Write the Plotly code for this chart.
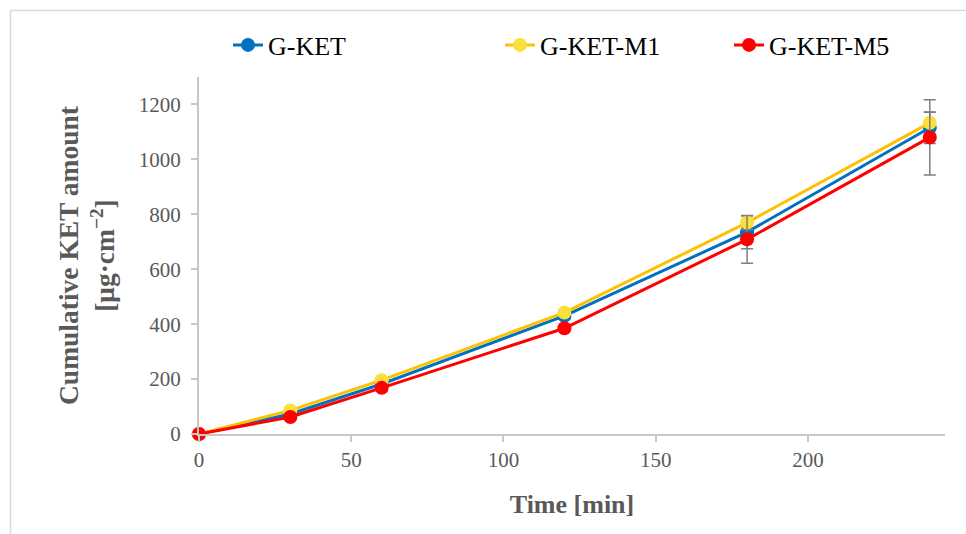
import plotly.graph_objects as go

time_min = [0, 30, 60, 120, 180, 240]
g_ket = [0, 73, 182, 430, 735, 1115]
g_ket_m1 = [0, 86, 196, 442, 770, 1133]
g_ket_m5 = [0, 62, 168, 385, 709, 1080]
err_g_ket = [0, 6, 8, 10, 60, 57]
err_g_ket_m1 = [0, 5, 8, 10, 25, 40]
err_g_ket_m5 = [0, 6, 12, 10, 87, 137]

series = [
    ("G-KET", g_ket, err_g_ket, "#0070C0", "#0070C0", "legend"),
    ("G-KET-M1", g_ket_m1, err_g_ket_m1, "#FFC000", "#F9E03C", "legend2"),
    ("G-KET-M5", g_ket_m5, err_g_ket_m5, "#FF0000", "#FF0000", "legend3"),
]

FONT = "Liberation Serif"
fig = go.Figure()
for name, vals, errs, lc, mc, lg in series:
    fig.add_trace(go.Scatter(
        x=time_min, y=vals, name=name, mode="lines+markers",
        line=dict(color=lc, width=3),
        marker=dict(color=mc, size=14),
        error_y=dict(type="data", array=errs, visible=True,
                     color="#7F7F7F", thickness=1.5, width=6),
        cliponaxis=False, legend=lg, showlegend=True,
    ))

L, R, T, B = 199, 21, 77, 100
W, H = 966, 534
pw, ph = W - L - R, H - T - B

def px_x(p):
    return (p - L) / pw

def px_y(p):
    return (H - B - p) / ph

leg_common = dict(orientation="h", yanchor="middle", xanchor="left",
                  font=dict(family=FONT, size=26, color="#000000"),
                  bgcolor="rgba(0,0,0,0)")
ly = px_y(45)

fig.update_layout(
    width=W, height=H,
    showlegend=True,
    margin=dict(l=L, r=R, t=T, b=B),
    paper_bgcolor="white", plot_bgcolor="white",
    legend=dict(x=px_x(228), y=ly, **leg_common),
    legend2=dict(x=px_x(500), y=ly, **leg_common),
    legend3=dict(x=px_x(729), y=ly, **leg_common),
    xaxis=dict(
        range=[0, 245], tickvals=[0, 50, 100, 150, 200],
        showgrid=False, zeroline=False, showline=True,
        linecolor="#C8C8C8", linewidth=2,
        ticks="outside", ticklen=6, tickcolor="#C8C8C8", tickwidth=1.5,
        tickfont=dict(family=FONT, size=21, color="#595959"),
        title=dict(text="<b>Time [min]</b>", standoff=24,
                   font=dict(family=FONT, size=26, color="#595959")),
    ),
    yaxis=dict(
        range=[0, 1300], tickvals=[0, 200, 400, 600, 800, 1000, 1200],
        showgrid=False, zeroline=False, showline=True,
        linecolor="#C8C8C8", linewidth=2,
        ticks="outside", ticklen=6, tickcolor="#C8C8C8", tickwidth=1.5,
        ticklabelstandoff=6,
        tickfont=dict(family=FONT, size=21, color="#595959"),
        title=dict(text="<b>Cumulative KET amount<br>[μg·cm<sup>−2</sup>]</b>", standoff=16,
                   font=dict(family=FONT, size=27.5, color="#595959")),
    ),
    shapes=[
        dict(type="line", xref="paper", yref="paper",
             x0=px_x(10.5), x1=px_x(10.5), y0=px_y(W), y1=px_y(10.5),
             line=dict(color="#D9D9D9", width=1.5)),
        dict(type="line", xref="paper", yref="paper",
             x0=px_x(10.5), x1=px_x(W + 5), y0=px_y(10.5), y1=px_y(10.5),
             line=dict(color="#D9D9D9", width=1.5)),
    ],
)

fig.write_html("out.html")
